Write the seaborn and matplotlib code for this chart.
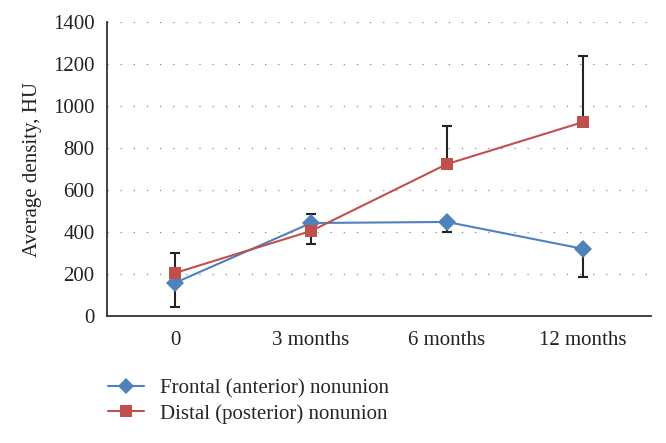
import numpy as np
import pandas as pd
import matplotlib
matplotlib.use("Agg")
import matplotlib.pyplot as plt
import seaborn as sns
from matplotlib.lines import Line2D

categories = ["0", "3 months", "6 months", "12 months"]
frontal = [158, 443, 448, 320]
distal = [205, 405, 724, 924]
frontal_err_low = [116, 0, 48, 134]
frontal_err_up = [0, 42, 0, 0]
distal_err_low = [0, 62, 0, 0]
distal_err_up = [95, 0, 182, 314]
series_names = ["Frontal (anterior) nonunion", "Distal (posterior) nonunion"]

sns.set_theme(style="white")
plt.rcParams['font.family'] = ['Liberation Serif', 'DejaVu Serif']

blue = "#4F81BD"
red = "#C0504D"
fs = 15

df = pd.DataFrame({
    "x": list(range(len(categories))) * 2,
    "value": frontal + distal,
    "series": [series_names[0]] * 4 + [series_names[1]] * 4,
})

fig = plt.figure(figsize=(6.66, 4.43), dpi=100)
ax = fig.add_axes([0.1607, 0.2867, 0.8168, 0.6633])

xs = np.arange(len(categories))
ax.errorbar(xs, frontal, yerr=[frontal_err_low, frontal_err_up], fmt="none",
            ecolor="#222222", elinewidth=1.5, capsize=3.3, capthick=1.5, zorder=2)
ax.errorbar(xs, distal, yerr=[distal_err_low, distal_err_up], fmt="none",
            ecolor="#222222", elinewidth=1.5, capsize=3.3, capthick=1.5, zorder=2)

sns.lineplot(data=df, x="x", y="value", hue="series", style="series",
             markers={series_names[0]: "D", series_names[1]: "s"},
             dashes=False, palette={series_names[0]: blue, series_names[1]: red},
             markersize=9, markeredgewidth=0, linewidth=1.5, ax=ax, zorder=3,
             legend=False)

ax.set_xlim(-0.5, 3.5)
ax.set_ylim(0, 1400)
ax.set_yticks(np.arange(0, 1401, 200))
ax.set_xticks(xs)
ax.set_xticklabels(categories)
ax.set_xticks(np.arange(-0.5, 3.6, 1), minor=True)
ax.tick_params(axis="x", which="major", length=0, pad=11, labelsize=fs, colors="#222222")
ax.tick_params(axis="x", which="minor", length=5, width=1.2, color="#333333", direction="out")
ax.tick_params(axis="y", length=5, width=1.2, color="#333333", direction="out",
               labelsize=fs, labelcolor="#222222", pad=4)
ax.set_xlabel("")
ax.set_ylabel("Average density, HU", fontsize=fs, color="#222222", labelpad=8)

for y in np.arange(200, 1401, 200):
    ax.axhline(y, color="#8a8a8a", linewidth=0.9, linestyle=(0, (1.0, 9.5)), zorder=1)

for s in ["top", "right"]:
    ax.spines[s].set_visible(False)
for s in ["left", "bottom"]:
    ax.spines[s].set_color("#333333")
    ax.spines[s].set_linewidth(1.3)

handles = [
    Line2D([0], [0], color=blue, marker="D", markersize=8, markeredgewidth=0, linewidth=1.5),
    Line2D([0], [0], color=red, marker="s", markersize=8, markeredgewidth=0, linewidth=1.5),
]
fig.legend(handles, series_names, loc="upper left", bbox_to_anchor=(0.15, 0.163),
           frameon=False, fontsize=fs, handlelength=1.7, handletextpad=0.8,
           labelspacing=0.25, borderaxespad=0)

fig.savefig("out.png", dpi=100)
